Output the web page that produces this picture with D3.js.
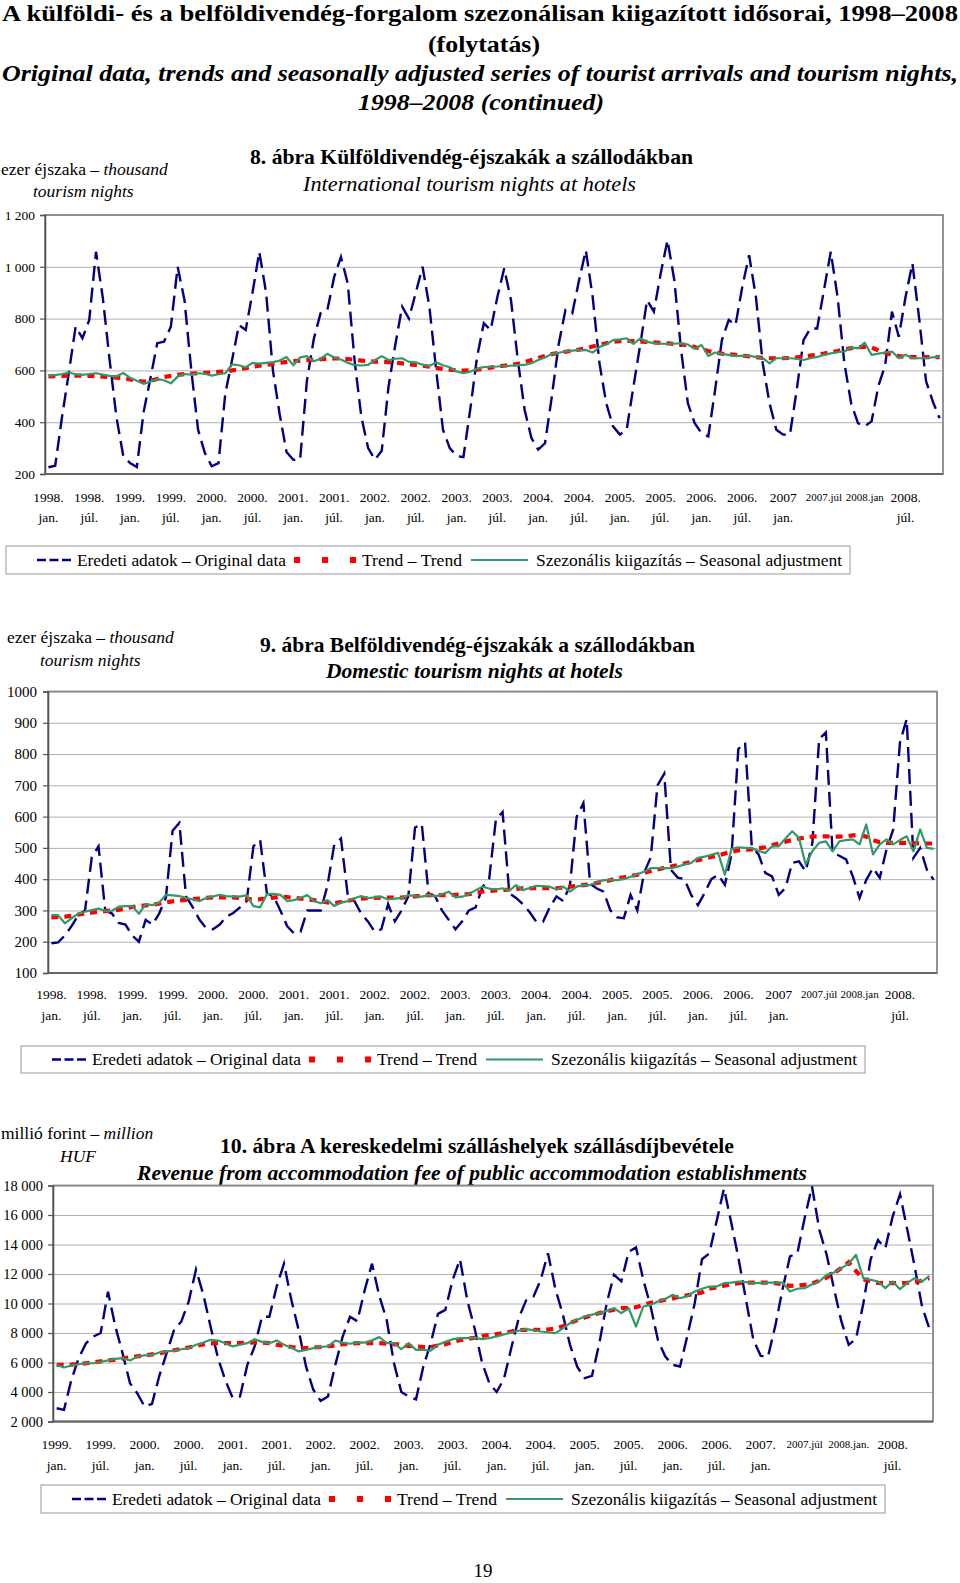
<!DOCTYPE html>
<html><head><meta charset="utf-8">
<script src="https://cdnjs.cloudflare.com/ajax/libs/d3/7.8.5/d3.min.js"></script>
<style>
body{margin:0;background:#fff}
svg{display:block}
text{font-family:"Liberation Serif","Times New Roman",serif;fill:#000}
</style>
</head><body>
<svg id="c" width="960" height="1583"></svg>
<script>
// ---------- DATA ----------
const monthNames = ["jan","feb","mar","apr","maj","jun","jul","aug","szep","okt","nov","dec"];
const yearsNights = [1998,1999,2000,2001,2002,2003,2004,2005,2006,2007,2008];
const yearsRevenue = [1999,2000,2001,2002,2003,2004,2005,2006,2007,2008];

// 8. ábra – International tourism nights at hotels (thousand)
const intlOriginal = [
226,232,420,590,769,724,794,1058,880,640,420,270,
242,227,440,570,705,711,769,1000,872,602,371,281,
230,242,510,640,775,756,900,1058,900,600,430,285,
255,255,560,720,820,833,960,1038,936,640,420,300,
255,290,538,700,846,800,900,1000,846,602,371,300,
270,265,448,650,782,756,884,994,871,640,448,339,
294,319,499,700,833,820,948,1064,884,628,473,384,
352,371,538,700,871,827,974,1103,949,679,473,396,
358,345,525,717,795,775,923,1045,884,628,473,371,
352,352,525,717,762,762,910,1058,884,628,473,396,
384,403,540,620,827,730,884,1013,800,560,480,415];
const intlTrend = [
577,578,579,580,580,580,579,578,576,574,572,570,
565,560,557,560,567,574,579,583,586,588,589,591,
592,594,596,600,604,609,614,618,621,625,629,633,
636,638,640,641,643,645,646,646,644,641,638,636,
634,633,632,630,627,624,621,618,614,610,606,603,
600,599,600,603,607,611,615,618,621,625,632,640,
648,656,663,668,672,676,680,685,692,699,705,710,
713,714,713,711,710,708,706,704,702,700,697,690,
682,675,669,665,662,660,657,654,651,648,647,647,
647,648,650,653,657,661,665,670,675,681,686,690,
691,688,678,668,660,655,652,651,651,651,651,651];
const intlSeasonal = [
580,582,586,592,585,583,586,589,584,579,577,590,
572,560,548,557,566,562,550,576,586,584,589,587,
580,585,589,623,620,612,629,626,629,632,638,652,
620,650,655,635,645,664,650,642,630,620,619,621,
640,655,640,645,647,633,631,622,617,631,620,612,
596,589,595,606,613,614,615,617,618,620,621,628,
640,650,664,668,673,676,678,679,669,690,700,717,
720,724,702,724,710,705,703,702,703,705,700,683,
698,656,669,664,660,656,656,656,652,647,627,647,
647,647,645,640,647,652,660,666,670,673,689,685,
707,660,665,669,673,647,660,647,647,647,650,653];

// 9. ábra – Domestic tourism nights at hotels (thousand)
const domOriginal = [
195,198,220,250,285,300,470,505,300,290,260,255,
220,200,270,255,290,340,555,580,345,310,270,243,
240,255,280,292,310,330,505,525,355,345,300,250,
227,232,300,300,300,380,510,530,350,330,290,265,
232,240,320,265,300,345,565,577,355,345,300,270,
240,265,300,310,375,400,590,615,355,340,320,295,
264,264,310,345,330,380,600,643,385,370,360,300,
278,275,350,300,420,470,700,737,430,405,400,350,
317,356,400,414,382,480,816,837,505,479,420,409,
350,372,452,457,425,516,848,869,484,475,463,409,
340,398,436,404,495,559,837,912,468,500,430,398];
const domTrend = [
278,279,280,283,287,290,293,296,298,300,302,306,
311,314,316,318,322,326,329,332,334,336,338,340,
342,342,342,342,340,337,335,336,338,341,344,343,
340,338,335,333,330,326,323,327,331,335,338,339,
340,341,341,341,341,343,345,347,349,349,349,349,
350,351,352,356,360,362,364,365,367,369,371,371,
371,371,371,371,373,376,378,381,384,388,392,397,
402,406,410,414,420,426,431,436,440,445,450,455,
461,466,471,476,482,488,492,494,495,498,502,508,
514,520,525,530,533,536,537,537,536,536,537,540,
542,536,525,518,516,516,516,516,515,514,514,514];
const domSeasonal = [
285,285,259,275,290,296,301,306,298,299,312,314,
314,289,320,317,325,350,348,346,340,335,330,340,
344,350,346,344,344,349,314,310,352,353,350,330,
333,340,349,330,323,333,314,325,330,339,346,339,
342,344,335,338,340,349,346,344,349,345,352,360,
342,344,352,365,376,370,367,371,363,381,365,372,
379,378,376,367,376,360,376,381,381,390,397,397,
397,400,408,416,424,435,435,435,435,440,447,452,
468,472,478,484,414,497,502,500,500,490,484,505,
505,530,553,532,447,490,516,521,489,521,525,527,
511,575,479,511,527,511,525,537,489,559,500,497];

// 10. ábra – Revenue from accommodation fee (million HUF)
const revOriginal = [
2900,2790,4820,6300,7300,7760,8000,10800,8440,6600,4600,3900,
3000,3200,5100,6630,8200,8780,10130,12300,10600,8400,6300,4800,
3600,3700,5840,7090,9100,9100,11150,12700,10250,8200,5730,4150,
3400,3700,5840,7760,9100,8800,10900,12700,10500,8900,5950,4000,
3700,3500,5730,7300,9300,9570,11600,13000,10200,8300,6000,4600,
4000,4900,7000,9000,10200,10450,11600,13400,11000,9300,7200,5700,
4940,5100,7300,10000,11950,11500,13500,13800,11600,9800,7500,6400,
5840,5730,7800,10000,13000,13400,15600,17800,15450,13000,10250,7540,
6450,6400,8500,11000,13200,13400,15800,17930,15000,13300,11000,8800,
7200,7600,10000,13000,14300,13750,15900,17400,15000,12500,9800,8300];
const revTrend = [
5840,5840,5850,5900,5950,6000,6080,6140,6200,6270,6350,6420,
6480,6550,6630,6720,6830,6920,7020,7120,7220,7290,7310,7310,
7310,7320,7340,7360,7350,7310,7200,7130,7050,6980,6980,7020,
7050,7100,7150,7240,7280,7310,7310,7310,7310,7280,7240,7200,
7120,7080,7050,7040,7150,7240,7380,7520,7600,7680,7800,7870,
7930,7990,8100,8200,8210,8210,8220,8240,8300,8450,8670,8870,
9050,9200,9350,9460,9580,9680,9680,9750,9900,10050,10150,10250,
10350,10470,10560,10650,10750,11000,11100,11200,11300,11380,11420,11420,
11420,11410,11380,11300,11200,11220,11270,11350,11550,11750,12060,12400,
12800,12200,11650,11500,11400,11380,11380,11380,11400,11450,11550,11720];
const revSeasonal = [
5840,5660,5800,5880,5950,5950,6050,6140,6250,6300,6140,6400,
6480,6520,6680,6750,6810,6900,6970,7200,7350,7540,7490,7300,
7090,7200,7310,7580,7400,7310,7490,7200,7000,6750,6850,6970,
7050,7090,7490,7350,7270,7360,7350,7500,7720,7310,7310,6900,
7310,6860,6850,6810,7200,7400,7580,7650,7650,7680,7580,7650,
7760,7900,8050,8150,8260,8200,8100,8050,7990,8300,8670,8900,
9120,9250,9350,9500,9680,9350,9680,8440,9800,9910,10140,10300,
10590,10360,10500,10810,11000,11150,11150,11380,11420,11490,11450,11380,
11400,11420,11420,11420,10810,11000,11040,11300,11490,11940,12100,12400,
12700,13300,11720,11600,11490,11040,11490,10970,11400,11720,11490,11880];

// tick labels (every 6th category)
const xLabelsNights = [["1998.","jan."],["1998.","júl."],["1999.","jan."],["1999.","júl."],["2000.","jan."],["2000.","júl."],["2001.","jan."],["2001.","júl."],["2002.","jan."],["2002.","júl."],["2003.","jan."],["2003.","júl."],["2004.","jan."],["2004.","júl."],["2005.","jan."],["2005.","júl."],["2006.","jan."],["2006.","júl."],["2007","jan."],["2007.júl",""],["2008.jan",""],["2008.","júl."]];
const xLabelsRevenue = [["1999.","jan."],["1999.","júl."],["2000.","jan."],["2000.","júl."],["2001.","jan."],["2001.","júl."],["2002.","jan."],["2002.","júl."],["2003.","jan."],["2003.","júl."],["2004.","jan."],["2004.","júl."],["2005.","jan."],["2005.","júl."],["2006.","jan."],["2006.","júl."],["2007.","jan."],["2007.júl",""],["2008.jan.",""],["2008.","júl."]];
const yTicksIntl = [200,400,600,800,1000,1200];
const yTicksDom = [100,200,300,400,500,600,700,800,900,1000];
const yTicksRev = [2000,4000,6000,8000,10000,12000,14000,16000,18000];
const legendLabels = ["Eredeti adatok – Original data","Trend – Trend","Szezonális kiigazítás – Seasonal adjustment"];

// ---------- DRAWING ----------
const NAVY = "#000080", RED = "#ff0000", GREEN = "#339966";
const svg = d3.select("#c");
svg.append("rect").attr("width",960).attr("height",1583).attr("fill","#fff");

function text(x, y, str, o = {}) {
  const t = svg.append("text").attr("x", x).attr("y", y).attr("dy","0.35em")
    .attr("font-size", o.size || 16)
    .attr("text-anchor", o.anchor || "start")
    .text(str);
  if (o.bold) t.attr("font-weight","bold");
  if (o.italic) t.attr("font-style","italic");
  if (o.len) t.attr("textLength", o.len).attr("lengthAdjust","spacingAndGlyphs");
  return t;
}
function mixed(x, y, parts, size) {
  const t = svg.append("text").attr("x", x).attr("y", y).attr("dy","0.35em").attr("font-size", size);
  parts.forEach(p => t.append("tspan").attr("font-style", p[1] ? "italic" : "normal").text(p[0]));
  return t;
}
const spaceFmt = d => d >= 1000 ? d3.format(",")(d).replace(/,/g, " ") : String(d);

function drawChart(cfg) {
  const {l, r, t, b} = cfg.box;
  const categories = cfg.years.flatMap(y => monthNames.map(m => y + "-" + m));
  const x = d3.scaleBand().domain(categories).range([l, r]);
  const cx = c => x(c) + x.bandwidth() / 2;
  const y = d3.scaleLinear().domain(cfg.yDomain).range([b, t]);
  const g = svg.append("g");

  // gridlines
  g.append("g").attr("transform", `translate(${l},0)`)
    .call(d3.axisLeft(y).tickValues(cfg.yTicks).tickSize(-(r - l)).tickFormat(""))
    .call(s => s.select(".domain").remove())
    .call(s => s.selectAll("line").attr("stroke", "#b0b0b0").attr("stroke-width", 1));
  // frame
  g.append("rect").attr("x", l).attr("y", t).attr("width", r - l).attr("height", b - t)
    .attr("fill", "none").attr("stroke", "#8a8a8a").attr("stroke-width", 1.8);
  // y axis
  const ya = g.append("g").attr("transform", `translate(${l},0)`)
    .call(d3.axisLeft(y).tickValues(cfg.yTicks).tickSize(5).tickPadding(cfg.tickPad).tickFormat(cfg.fmt));
  ya.attr("font-family", null).attr("font-size", null);
  ya.select(".domain").attr("stroke", "#555").attr("stroke-width", 1.6);
  ya.selectAll(".tick line").attr("stroke", "#555").attr("stroke-width", 1.2);
  ya.selectAll("text").attr("font-size", cfg.ySize).attr("fill", "#000")
    .attr("font-family", '"Liberation Serif","Times New Roman",serif');
  // bottom axis line
  g.append("line").attr("x1", l).attr("x2", r).attr("y1", b).attr("y2", b)
    .attr("stroke", "#666").attr("stroke-width", 1.8);

  // x labels (one-line crowded labels are set a little smaller so they do not collide)
  cfg.xLabels.forEach((pair, k) => {
    const c = categories[k * 6];
    const xx = cx(c);
    const single = !pair[1];
    g.append("text").attr("x", xx).attr("y", cfg.labY[0]).attr("dy", "0.35em")
      .attr("text-anchor", "middle").attr("font-size", single ? 11 : 13.5).text(pair[0]);
    if (pair[1]) g.append("text").attr("x", xx).attr("y", cfg.labY[1]).attr("dy", "0.35em")
      .attr("text-anchor", "middle").attr("font-size", 13.5).text(pair[1]);
  });

  const line = d3.line().x((d, i) => cx(categories[i])).y(d => y(d));
  g.append("path").datum(cfg.orig).attr("d", line).attr("fill", "none")
    .attr("stroke", NAVY).attr("stroke-width", 2.4).attr("stroke-dasharray", "15,7");
  g.append("path").datum(cfg.trend).attr("d", line).attr("fill", "none")
    .attr("stroke", RED).attr("stroke-width", 4.2).attr("stroke-dasharray", "7,6");
  g.append("path").datum(cfg.sa).attr("d", line).attr("fill", "none")
    .attr("stroke", GREEN).attr("stroke-width", 2.2).attr("stroke-linejoin", "round");

  drawLegend(cfg.legend[0], cfg.legend[1], cfg.legend[2]);
}

function drawLegend(L, T, H) {
  const cy = T + H / 2;
  svg.append("rect").attr("x", L).attr("y", T).attr("width", 844).attr("height", H)
    .attr("fill", "#fff").attr("stroke", "#a8a8a8").attr("stroke-width", 1.2);
  svg.append("line").attr("x1", L + 31).attr("x2", L + 65).attr("y1", cy).attr("y2", cy)
    .attr("stroke", NAVY).attr("stroke-width", 2.6).attr("stroke-dasharray", "9,3.5");
  text(L + 71, cy, legendLabels[0], {size: 17, len: 209});
  [291, 319, 347].forEach(dx => svg.append("rect").attr("x", L + dx - 3).attr("y", cy - 3)
    .attr("width", 6).attr("height", 6).attr("fill", RED));
  text(L + 356, cy, legendLabels[1], {size: 17, len: 100});
  svg.append("line").attr("x1", L + 465).attr("x2", L + 522).attr("y1", cy).attr("y2", cy)
    .attr("stroke", GREEN).attr("stroke-width", 2.2);
  text(L + 530, cy, legendLabels[2], {size: 17, len: 306});
}

// ---------- main title ----------
text(480, 13, "A külföldi- és a belföldivendég-forgalom szezonálisan kiigazított idősorai, 1998–2008", {size: 23, bold: true, anchor: "middle", len: 956});
text(484, 44, "(folytatás)", {size: 23, bold: true, anchor: "middle", len: 112});
text(480, 73, "Original data, trends and seasonally adjusted series of tourist arrivals and tourism nights,", {size: 23, bold: true, italic: true, anchor: "middle", len: 956});
text(481, 102, "1998–2008 (continued)", {size: 23, bold: true, italic: true, anchor: "middle", len: 246});

// ---------- chart 8 ----------
mixed(1, 169, [["ezer éjszaka – ", false], ["thousand", true]], 17.5);
mixed(33, 191, [["tourism nights", true]], 17.5);
text(471.5, 156.5, "8. ábra Külföldivendég-éjszakák a szállodákban", {size: 21.5, bold: true, anchor: "middle", len: 443});
text(469.5, 184, "International tourism nights at hotels", {size: 20, italic: true, anchor: "middle", len: 333});
drawChart({
  years: yearsNights, orig: intlOriginal, trend: intlTrend, sa: intlSeasonal,
  box: {l: 45, r: 943, t: 215, b: 474}, yDomain: [200, 1200], yTicks: yTicksIntl,
  fmt: spaceFmt, ySize: 13.5, tickPad: 5, xLabels: xLabelsNights, labY: [497, 517],
  legend: [6, 546, 28]
});

// ---------- chart 9 ----------
mixed(7, 637, [["ezer éjszaka – ", false], ["thousand", true]], 17.5);
mixed(40, 660, [["tourism nights", true]], 17.5);
text(477.5, 644, "9. ábra Belföldivendég-éjszakák a szállodákban", {size: 21.5, bold: true, anchor: "middle", len: 435});
text(474.5, 671, "Domestic tourism nights at hotels", {size: 20, bold: true, italic: true, anchor: "middle", len: 297});
drawChart({
  years: yearsNights, orig: domOriginal, trend: domTrend, sa: domSeasonal,
  box: {l: 48, r: 937, t: 691.5, b: 973}, yDomain: [100, 1000], yTicks: yTicksDom,
  fmt: d => String(d), ySize: 15, tickPad: 6, xLabels: xLabelsNights, labY: [994, 1015.5],
  legend: [21, 1046, 27]
});

// ---------- chart 10 ----------
mixed(1, 1133, [["millió forint – ", false], ["million", true]], 17.5);
mixed(60, 1156, [["HUF", true]], 17.5);
text(477, 1146, "10. ábra A kereskedelmi szálláshelyek szállásdíjbevétele", {size: 20, bold: true, anchor: "middle", len: 514});
text(472, 1173, "Revenue from accommodation fee of public accommodation establishments", {size: 20, bold: true, italic: true, anchor: "middle", len: 670});
drawChart({
  years: yearsRevenue, orig: revOriginal, trend: revTrend, sa: revSeasonal,
  box: {l: 53, r: 933, t: 1185.5, b: 1421.5}, yDomain: [2000, 18000], yTicks: yTicksRev,
  fmt: spaceFmt, ySize: 14.5, tickPad: 5, xLabels: xLabelsRevenue, labY: [1444, 1465],
  legend: [41, 1485, 28]
});

// page number
text(483, 1570, "19", {size: 19, anchor: "middle"});
</script>
</body></html>
